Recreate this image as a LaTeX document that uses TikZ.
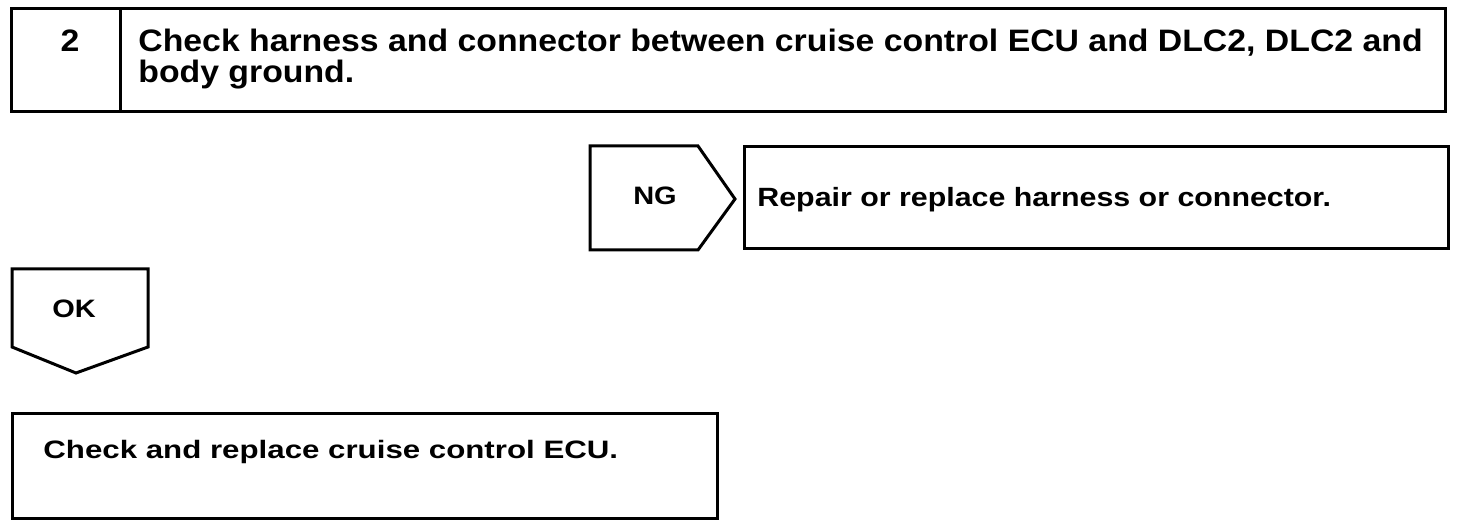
\documentclass[tikz,border=0pt]{standalone}
\usepackage{fontspec}
\setmainfont{Liberation Sans}
\newfontfamily\headfont[FakeStretch=1.09]{Liberation Sans}
\newfontfamily\bodyfont[FakeStretch=1.15]{Liberation Sans}
\newfontfamily\widefont[FakeStretch=1.24]{Liberation Sans}
\usetikzlibrary{positioning}

\begin{document}
\begin{tikzpicture}[
    x=0.5pt, y=-0.5pt,
    frame/.style={draw, line width=1.5pt, line join=miter},
    head/.style={font=\headfont\bfseries\fontsize{15.5}{15.5}\selectfont, inner sep=0pt, align=left},
    txt/.style={font=\bodyfont\bfseries\fontsize{13.2}{15}\selectfont, inner sep=0pt, align=left},
    tag/.style={font=\bodyfont\bfseries\fontsize{12.6}{15}\selectfont, inner sep=0pt, anchor=base}
]
\useasboundingbox (0,0) rectangle (1472,528);

% Step 2 header
\draw[frame] (11,9) rectangle (1445,112);
\draw[frame] (120,9) -- (120,112);
\node[head, anchor=base] (num) at (70,52) {2};
\node[head, anchor=north west] (check) at (138,29) {Check harness and connector between cruise control ECU and DLC2, DLC2 and\\body ground.};

% NG branch
\draw[frame] (590,146) -- (698,146) -- (735,199) -- (698,250) -- (590,250) -- cycle;
\node[tag] (ng) at (655,205) {NG};
\draw[frame] (744,147) rectangle (1448,249);
\node[txt, anchor=base west] (repair) at (757,207) {Repair or replace harness or connector.};

% OK branch
\draw[frame] (12,269) -- (148,269) -- (148,347) -- (76,373) -- (12,347) -- cycle;
\node[tag] (ok) at (74,318) {OK};
\draw[frame] (12,414) rectangle (717,519);
\node[txt, font=\widefont\bfseries\fontsize{12.6}{15}\selectfont, anchor=base west] (ecu) at (43,459) {Check and replace cruise control ECU.};

\end{tikzpicture}
\end{document}
